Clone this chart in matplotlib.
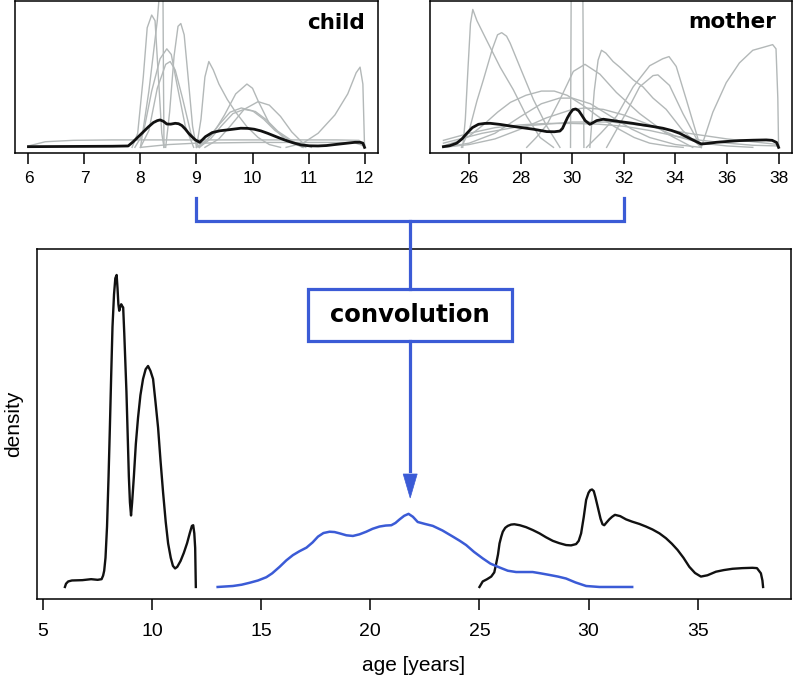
import matplotlib
matplotlib.use('Agg')
import matplotlib.pyplot as plt
from matplotlib.lines import Line2D
from matplotlib.patches import Rectangle, Polygon

# ---------------- data (density, arbitrary units) ----
# top-left panel: child age densities
child_gray_x = [
    [7.85, 7.95, 8.05, 8.12, 8.2, 8.26, 8.32, 8.38, 8.42],
    [8.0, 8.15, 8.3, 8.36, 8.40, 8.41, 8.42],
    [8.45, 8.52, 8.6, 8.67, 8.72, 8.78, 8.85, 8.93, 9.0],
    [7.9, 8.05, 8.2, 8.35, 8.47, 8.55, 8.65, 8.8, 8.95],
    [8.0, 8.15, 8.3, 8.45, 8.53, 8.62, 8.75, 8.9, 9.05],
    [9.0, 9.08, 9.15, 9.22, 9.3, 9.4, 9.55, 9.7, 9.9, 10.1, 10.3, 10.5],
    [9.05, 9.3, 9.5, 9.7, 9.9, 10.0, 10.1, 10.3, 10.6, 10.9],
    [9.0, 9.2, 9.4, 9.6, 9.8, 10.0, 10.2, 10.4, 10.7, 10.9],
    [9.05, 9.25, 9.45, 9.65, 9.85, 10.05, 10.25, 10.45, 10.75, 10.95],
    [9.15, 9.4, 9.6, 9.85, 10.1, 10.3, 10.5, 10.7, 10.9, 11.05],
    [10.6, 10.9, 11.17, 11.47, 11.7, 11.85, 11.92, 11.97, 12.0],
    [6.0, 6.3, 6.8, 7.5, 11.5, 11.9, 12.0],
    [8.0, 8.5, 9.0, 10.0, 11.0, 11.8, 12.0],
]
child_gray_y = [
    [0, 0.1, 0.5, 0.85, 0.94, 0.9, 0.5, 0.1, 0],
    [0, 0.4, 0.9, 1.2, 1.2, 0.5, 0],
    [0, 0.25, 0.65, 0.86, 0.88, 0.8, 0.5, 0.15, 0],
    [0, 0.1, 0.4, 0.63, 0.70, 0.66, 0.45, 0.15, 0],
    [0, 0.12, 0.42, 0.59, 0.61, 0.55, 0.35, 0.1, 0],
    [0, 0.2, 0.5, 0.61, 0.55, 0.45, 0.34, 0.25, 0.147, 0.07, 0.02, 0],
    [0, 0.1, 0.23, 0.38, 0.45, 0.42, 0.33, 0.17, 0.05, 0],
    [0, 0.06, 0.16, 0.25, 0.28, 0.26, 0.2, 0.12, 0.04, 0],
    [0, 0.06, 0.155, 0.24, 0.27, 0.255, 0.195, 0.115, 0.035, 0],
    [0, 0.06, 0.15, 0.27, 0.325, 0.3, 0.22, 0.11, 0.03, 0],
    [0, 0.03, 0.1, 0.23, 0.38, 0.53, 0.57, 0.45, 0],
    [0.01, 0.04, 0.05, 0.053, 0.053, 0.05, 0.02],
    [0.0, 0.02, 0.03, 0.035, 0.035, 0.035, 0.01],
]
child_sum_x = [6.0, 6.5, 7.0, 7.5, 7.78, 7.87, 7.96, 8.05, 8.14, 8.23, 8.3, 8.35,
               8.41, 8.47, 8.54, 8.62, 8.68, 8.74, 8.8, 8.86, 8.92, 8.98, 9.06,
               9.16, 9.28, 9.42, 9.55, 9.67, 9.79, 9.91, 10.03, 10.15, 10.27,
               10.42, 10.57, 10.72, 10.87, 11.02, 11.17, 11.32, 11.47, 11.65,
               11.83, 11.92, 11.97, 12.0]
child_sum_y = [0.005, 0.006, 0.007, 0.008, 0.01, 0.04, 0.075, 0.11, 0.145, 0.176,
               0.19, 0.195, 0.185, 0.166, 0.165, 0.171, 0.168, 0.155, 0.13, 0.10,
               0.075, 0.053, 0.036, 0.076, 0.105, 0.118, 0.124, 0.13, 0.136,
               0.135, 0.129, 0.117, 0.10, 0.076, 0.053, 0.033, 0.017, 0.011,
               0.01, 0.013, 0.02, 0.028, 0.036, 0.036, 0.03, 0.0]

# top-right panel: mother age densities
mother_gray_x = [
    [25.75, 25.85, 25.95, 26.05, 26.14, 26.3, 26.68, 27.2, 27.71, 28.23, 28.75, 29.27],
    [25.7, 26.0, 26.3, 26.55, 26.9, 27.1, 27.26, 27.45, 27.59, 27.97, 28.49, 29.01, 29.52],
    [29.93, 29.96, 30.4, 30.45],
    [30.68, 30.85, 31.0, 31.13, 31.3, 31.58, 31.84, 32.36, 32.74, 33.13, 33.64, 34.28, 35.0],
    [28.23, 28.6, 29.01, 29.52, 30.04, 30.49, 31.07, 31.71, 32.61, 33.64, 34.67],
    [30.55, 31.1, 31.71, 32.36, 33.0, 33.51, 33.75, 34.03, 34.42, 34.94, 35.0],
    [31.33, 31.7, 32.1, 32.61, 33.13, 33.32, 33.77, 34.29, 34.94, 35.0],
    [35.0, 35.45, 35.97, 36.48, 37.0, 37.39, 37.77, 37.9, 37.97, 38.0],
    [25.0, 25.5, 26.0, 26.55, 27.1, 27.6, 28.2, 28.8, 29.3, 29.8, 30.4, 31.0,
     31.7, 32.4, 33.0, 33.7, 34.3],
    [25.0, 26.0, 27.0, 28.0, 28.8, 29.5, 30.0, 30.7, 31.5, 32.3, 33.0, 34.0, 35.0],
    [25.0, 26.0, 27.0, 28.0, 29.0, 30.0, 30.5, 31.2, 32.0, 33.0, 34.0, 35.0, 36.0, 37.0],
    [25.0, 26.0, 27.0, 28.0, 29.0, 30.0, 31.0, 32.0, 33.0, 34.0, 35.0, 36.0, 37.0, 38.0],
    [25.0, 26.5, 28.0, 30.0, 31.5, 33.0, 34.5, 36.0, 38.0],
]
mother_gray_y = [
    [0, 0.2, 0.55, 0.88, 0.98, 0.9, 0.76, 0.57, 0.41, 0.22, 0.07, 0],
    [0, 0.12, 0.33, 0.48, 0.7, 0.8, 0.815, 0.79, 0.74, 0.57, 0.34, 0.15, 0],
    [0, 1.3, 1.3, 0],
    [0, 0.4, 0.62, 0.69, 0.67, 0.61, 0.57, 0.48, 0.43, 0.35, 0.27, 0.12, 0],
    [0, 0.07, 0.16, 0.34, 0.54, 0.59, 0.52, 0.39, 0.24, 0.1, 0],
    [0, 0.1, 0.22, 0.43, 0.58, 0.63, 0.645, 0.575, 0.34, 0.02, 0],
    [0, 0.12, 0.25, 0.43, 0.51, 0.515, 0.44, 0.24, 0.02, 0],
    [0, 0.25, 0.46, 0.60, 0.69, 0.71, 0.73, 0.70, 0.35, 0],
    [0.01, 0.04, 0.08, 0.16, 0.25, 0.32, 0.37, 0.40, 0.40, 0.37, 0.30, 0.22,
     0.14, 0.07, 0.03, 0.01, 0],
    [0.0, 0.03, 0.1, 0.22, 0.31, 0.35, 0.35, 0.31, 0.22, 0.13, 0.07, 0.02, 0],
    [0.0, 0.02, 0.06, 0.13, 0.21, 0.27, 0.28, 0.27, 0.23, 0.16, 0.08, 0.03, 0.01, 0],
    [0.05, 0.1, 0.14, 0.16, 0.17, 0.17, 0.165, 0.15, 0.12, 0.08, 0.05, 0.03, 0.015, 0.01],
    [0.03, 0.1, 0.15, 0.18, 0.18, 0.15, 0.1, 0.06, 0.02],
]
mother_sum_x = [25.0, 25.25, 25.52, 25.72, 25.91, 26.12, 26.36, 26.6, 26.81, 27.2,
                27.59, 28.05, 28.49, 29.01, 29.3, 29.52, 29.62, 29.71, 29.81,
                29.91, 30.02, 30.13, 30.25, 30.36, 30.5, 30.68, 30.8, 30.94,
                31.2, 31.5, 31.84, 32.3, 32.74, 33.1, 33.51, 33.85, 34.16,
                34.42, 34.67, 35.0, 35.3, 35.58, 36.0, 36.48, 37.0, 37.52,
                37.75, 37.92, 38.0]
mother_sum_y = [0.005, 0.012, 0.03, 0.06, 0.10, 0.14, 0.164, 0.17, 0.171, 0.163,
                0.152, 0.14, 0.129, 0.112, 0.111, 0.116, 0.135, 0.171, 0.21,
                0.242, 0.268, 0.273, 0.26, 0.23, 0.19, 0.164, 0.175, 0.19, 0.20,
                0.192, 0.183, 0.172, 0.159, 0.149, 0.136, 0.12, 0.10, 0.076,
                0.053, 0.024, 0.029, 0.036, 0.042, 0.048, 0.051, 0.053, 0.05,
                0.035, 0.0]

# bottom panel
child_x = [6.0, 6.05, 6.15, 6.32, 6.8, 7.2, 7.5, 7.68, 7.75, 7.8, 7.86, 7.93, 8.0,
           8.06, 8.12, 8.18, 8.25, 8.31, 8.37, 8.41, 8.45, 8.49, 8.53, 8.58,
           8.62, 8.67, 8.72, 8.77, 8.82, 8.88, 8.93, 8.98, 9.03, 9.08, 9.16,
           9.25, 9.35, 9.46, 9.58, 9.7, 9.81, 9.92, 10.04, 10.15, 10.27, 10.38,
           10.5, 10.62, 10.73, 10.85, 10.95, 11.05, 11.15, 11.3, 11.45, 11.6,
           11.72, 11.82, 11.88, 11.93, 11.97, 12.0]
child_y = [0.0, 0.01, 0.017, 0.02, 0.021, 0.024, 0.022, 0.024, 0.035, 0.05, 0.09,
           0.186, 0.34, 0.49, 0.65, 0.80, 0.90, 0.95, 0.96, 0.92, 0.87, 0.85,
           0.86, 0.87, 0.865, 0.86, 0.78, 0.69, 0.60, 0.46, 0.34, 0.26, 0.22,
           0.26, 0.34, 0.44, 0.52, 0.59, 0.64, 0.67, 0.68, 0.665, 0.64, 0.57,
           0.49, 0.39, 0.29, 0.20, 0.134, 0.09, 0.065, 0.057, 0.062, 0.08,
           0.105, 0.135, 0.165, 0.188, 0.19, 0.165, 0.12, 0.0]

conv_x = [13.0, 13.7, 14.1, 14.47, 14.85, 15.23, 15.5, 15.84, 16.15, 16.45, 16.75,
          17.07, 17.35, 17.6, 17.85, 18.13, 18.36, 18.59, 18.9, 19.2, 19.5,
          19.81, 20.1, 20.42, 20.7, 20.96, 21.15, 21.34, 21.55, 21.75, 21.95,
          22.17, 22.5, 22.86, 23.3, 23.78, 24.1, 24.39, 24.75, 25.15, 25.5,
          25.92, 26.3, 26.68, 27.05, 27.44, 27.8, 28.21, 28.6, 28.97, 29.4,
          29.89, 30.5, 32.0]
conv_y = [0.0, 0.003, 0.007, 0.013, 0.02, 0.03, 0.042, 0.062, 0.082, 0.098, 0.11,
          0.121, 0.137, 0.155, 0.166, 0.17, 0.169, 0.165, 0.159, 0.157, 0.162,
          0.17, 0.179, 0.186, 0.189, 0.19, 0.197, 0.208, 0.219, 0.225, 0.216,
          0.20, 0.194, 0.188, 0.174, 0.155, 0.142, 0.129, 0.108, 0.088, 0.072,
          0.06, 0.05, 0.046, 0.046, 0.046, 0.042, 0.037, 0.032, 0.026, 0.014,
          0.003, 0.0, 0.0]

mother_x = [25.0, 25.15, 25.35, 25.54, 25.68, 25.77, 25.85, 25.92, 26.0, 26.07,
            26.18, 26.3, 26.45, 26.6, 26.85, 27.14, 27.45, 27.75, 28.05, 28.36,
            28.65, 28.97, 29.2, 29.43, 29.55, 29.66, 29.78, 29.89, 30.0, 30.08,
            30.16, 30.24, 30.32, 30.42, 30.55, 30.64, 30.72, 30.82, 30.95,
            31.08, 31.21, 31.45, 31.72, 32.0, 32.33, 32.63, 32.93, 33.25, 33.55,
            33.82, 34.08, 34.35, 34.62, 34.88, 35.15, 35.45, 35.84, 36.2, 36.6,
            37.05, 37.51, 37.72, 37.9, 37.97, 38.0]
mother_y = [0.0, 0.017, 0.024, 0.032, 0.045, 0.073, 0.10, 0.134, 0.155, 0.17,
            0.182, 0.188, 0.192, 0.193, 0.19, 0.184, 0.175, 0.165, 0.153, 0.142,
            0.135, 0.129, 0.128, 0.132, 0.142, 0.165, 0.215, 0.268, 0.29, 0.298,
            0.30, 0.295, 0.275, 0.247, 0.21, 0.193, 0.19, 0.198, 0.208, 0.216,
            0.222, 0.218, 0.208, 0.201, 0.194, 0.186, 0.177, 0.165, 0.15, 0.133,
            0.114, 0.09, 0.062, 0.043, 0.032, 0.036, 0.047, 0.052, 0.056, 0.058,
            0.059, 0.058, 0.042, 0.02, 0.0]

child_ticks = [6, 7, 8, 9, 10, 11, 12]
mother_ticks = [26, 28, 30, 32, 34, 36, 38]
age_ticks = [5, 10, 15, 20, 25, 30, 35]

# ---------------- style ----------------
GRAY = '#b3b8b8'
BLUE = '#3b5bd6'
TICKFONT = 'Liberation Sans'

W, H = 793, 679
fig = plt.figure(figsize=(W / 100, H / 100), dpi=100)


def px_box(x0, y0, x1, y1):
    return [x0 / W, 1 - y1 / H, (x1 - x0) / W, (y1 - y0) / H]


def style_axes(ax, ticks, fs, pad):
    for s in ax.spines.values():
        s.set_linewidth(1.1)
    ax.set_yticks([])
    ax.set_xticks(ticks)
    ax.set_xticklabels([str(t) for t in ticks], fontfamily=TICKFONT, fontsize=fs)
    ax.tick_params(axis='x', direction='out', length=8, width=1.1, pad=pad)


ax1 = fig.add_axes(px_box(15, 1, 378, 153))
for xs, ys in zip(child_gray_x, child_gray_y):
    ax1.plot(xs, ys, color=GRAY, lw=1.0)
ax1.plot(child_sum_x, child_sum_y, color='#111111', lw=2.0)
ax1.set_xlim(5.76, 12.24)
ax1.set_ylim(-0.04, 1.04)
style_axes(ax1, child_ticks, 12.5, 5)
ax1.text(0.965, 0.92, 'child', transform=ax1.transAxes, ha='right', va='top',
         fontsize=15.5, fontweight='bold', family='DejaVu Sans')

ax2 = fig.add_axes(px_box(430, 1, 792, 153))
for xs, ys in zip(mother_gray_x, mother_gray_y):
    ax2.plot(xs, ys, color=GRAY, lw=1.0)
ax2.plot(mother_sum_x, mother_sum_y, color='#111111', lw=2.0)
ax2.set_xlim(24.48, 38.52)
ax2.set_ylim(-0.04, 1.04)
style_axes(ax2, mother_ticks, 12.5, 5)
ax2.text(0.955, 0.93, 'mother', transform=ax2.transAxes, ha='right', va='top',
         fontsize=15.5, fontweight='bold', family='DejaVu Sans')

ax3 = fig.add_axes(px_box(37, 249, 791, 599))
ax3.plot(child_x, child_y, color='#111111', lw=1.7)
ax3.plot(mother_x, mother_y, color='#111111', lw=1.7)
ax3.plot(conv_x, conv_y, color=BLUE, lw=1.8)
ax3.set_xlim(4.72, 39.28)
ax3.set_ylim(-0.037, 1.04)
style_axes(ax3, age_ticks, 14, 9)
ax3.set_xlabel('age [years]', fontfamily=TICKFONT, fontsize=15, labelpad=12)
ax3.set_ylabel('density', fontfamily=TICKFONT, fontsize=15, labelpad=10)

# ---------------- convolution connector ----------------
inv = fig.transFigure.inverted()
xl = inv.transform(ax1.transData.transform((9, 0)))[0]
xr = inv.transform(ax2.transData.transform((32, 0)))[0]
xc = (xl + xr) / 2
y_top, y_mid = 1 - 198 / H, 1 - 221 / H
box_top, box_bot = 1 - 289 / H, 1 - 341 / H
head_base, tip = 1 - 474 / H, 1 - 498 / H
box_w = 204 / W
hw = 7 / W

lw_b = 2.3
fig.add_artist(Line2D([xl, xl, xr, xr], [y_top, y_mid, y_mid, y_top],
                      color=BLUE, lw=lw_b, transform=fig.transFigure,
                      solid_joinstyle='miter'))
fig.add_artist(Line2D([xc, xc], [y_mid, box_top], color=BLUE, lw=lw_b,
                      transform=fig.transFigure))
fig.add_artist(Rectangle((xc - box_w / 2, box_bot), box_w, box_top - box_bot,
                         facecolor='white', edgecolor=BLUE, lw=lw_b,
                         transform=fig.transFigure))
fig.text(xc, (box_top + box_bot) / 2, 'convolution', ha='center', va='center',
         fontsize=17.5, fontweight='bold', family='DejaVu Sans')
fig.add_artist(Line2D([xc, xc], [box_bot, head_base + 0.005], color=BLUE,
                      lw=lw_b, transform=fig.transFigure))
fig.add_artist(Polygon([[xc - hw, head_base], [xc + hw, head_base], [xc, tip]],
                       closed=True, facecolor=BLUE, edgecolor=BLUE, lw=0.5,
                       transform=fig.transFigure))

fig.savefig('out.png', dpi=100)
